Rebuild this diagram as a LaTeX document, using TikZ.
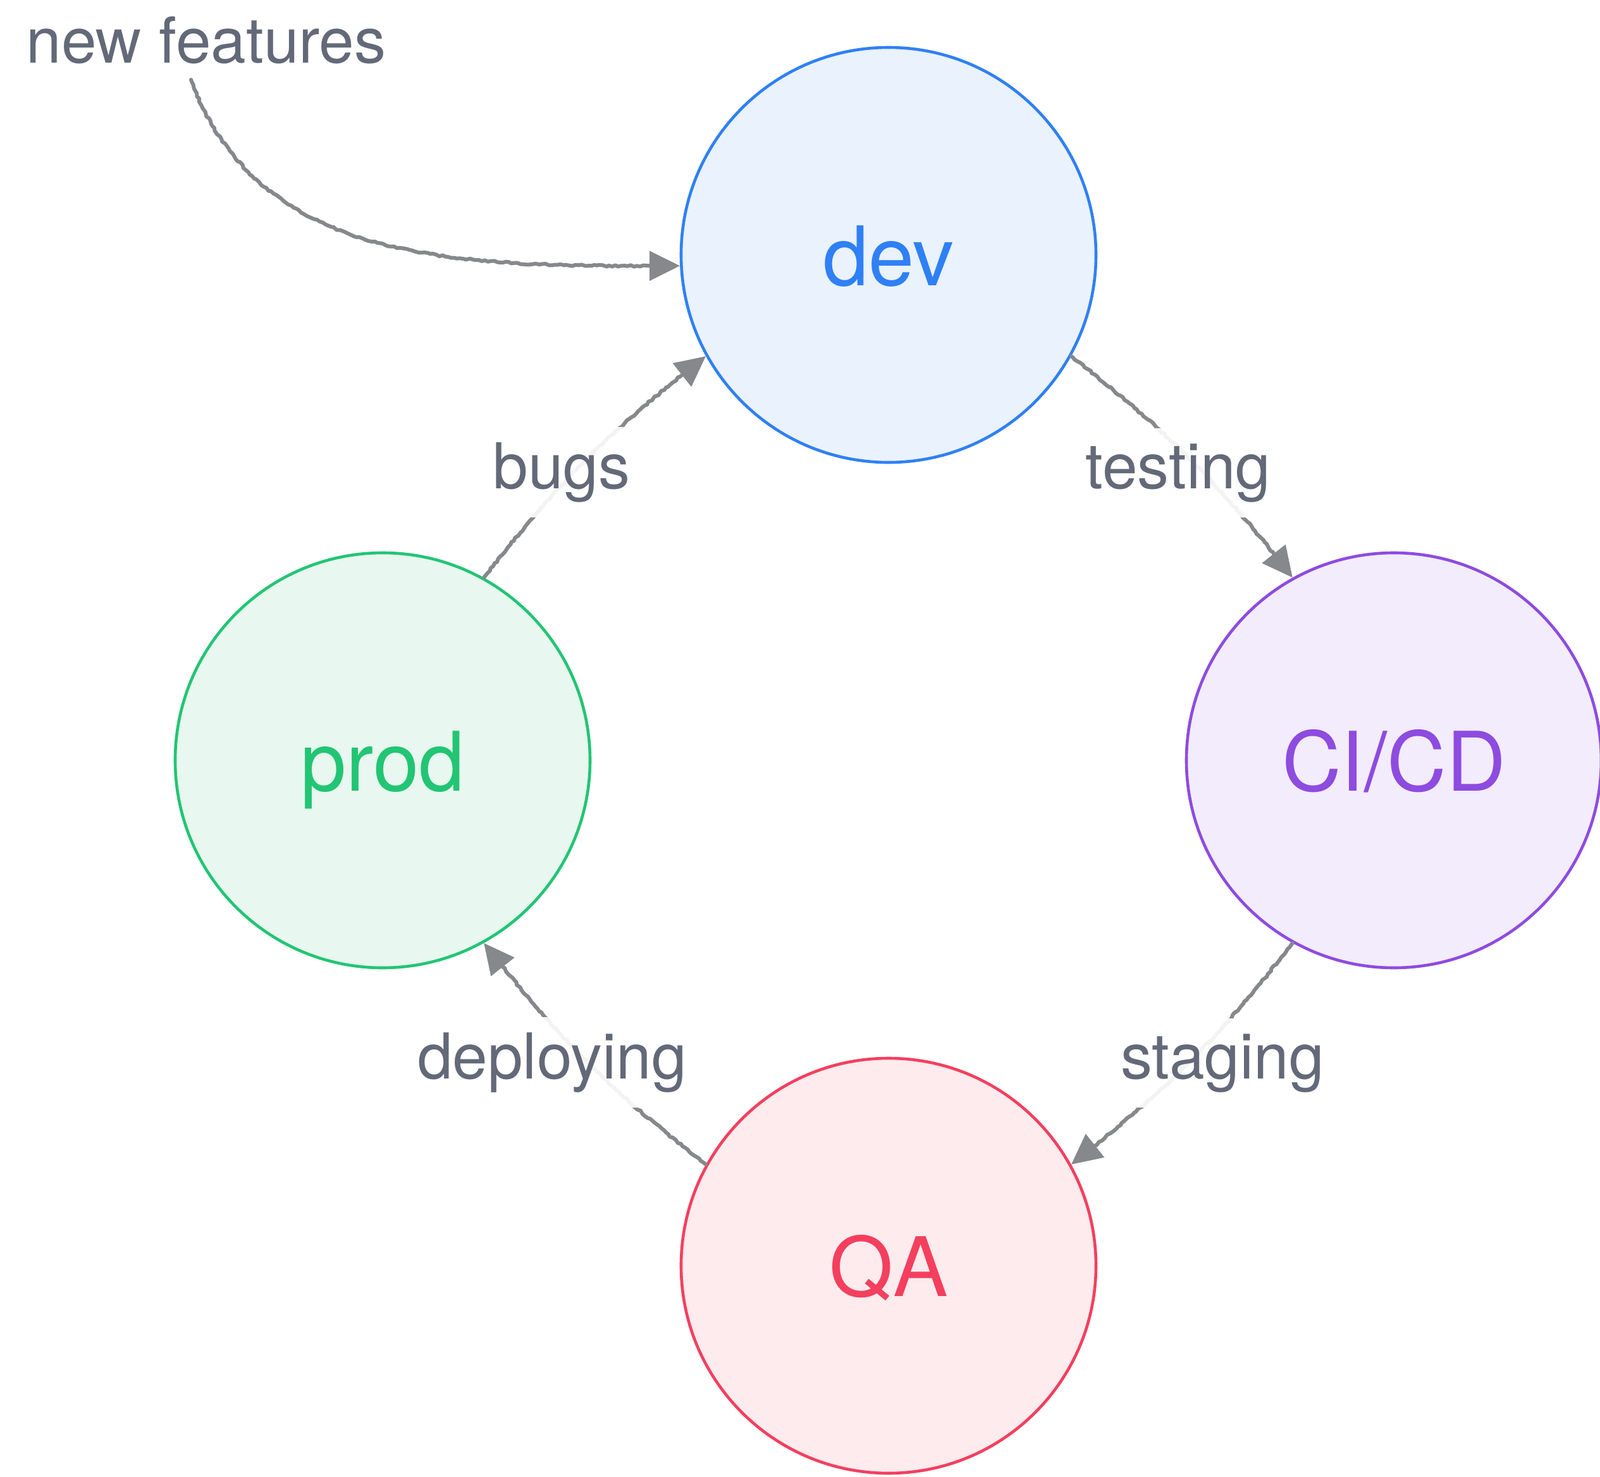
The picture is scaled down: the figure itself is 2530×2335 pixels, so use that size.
\documentclass[tikz,border=0pt]{standalone}
\usepackage{fontspec}
\setmainfont{TeX Gyre Heros}
\usetikzlibrary{arrows.meta,decorations.pathmorphing}
\definecolor{labelgray}{RGB}{99,105,120}
\definecolor{arrowgray}{RGB}{134,136,140}
\definecolor{devline}{RGB}{47,128,245}
\definecolor{devfill}{RGB}{234,242,253}
\definecolor{ciline}{RGB}{142,75,224}
\definecolor{cifill}{RGB}{242,236,252}
\definecolor{qaline}{RGB}{244,63,94}
\definecolor{qafill}{RGB}{253,235,238}
\definecolor{prodline}{RGB}{34,197,116}
\definecolor{prodfill}{RGB}{232,247,239}
\begin{document}
\begin{tikzpicture}[x=0.25pt,y=0.25pt,
  stage/.style={circle, minimum size=164pt, inner sep=0pt, line width=1.15pt,
    text height=24pt, text depth=0pt, font=\fontsize{32.5}{39}\selectfont},
  devstage/.style={stage, draw=devline, fill=devfill, text=devline},
  cistage/.style={stage, draw=ciline, fill=cifill, text=ciline},
  qastage/.style={stage, draw=qaline, fill=qafill, text=qaline},
  prodstage/.style={stage, draw=prodline, fill=prodfill, text=prodline},
  edge/.style={draw=arrowgray, line width=1.5pt, line cap=round, line join=round,
    -{Triangle[length=12pt,width=11.5pt]},
    decorate, decoration={random steps, segment length=1.2pt, amplitude=0.35pt,
    pre length=1pt, post length=12pt}},
  elabel/.style={fill=white, fill opacity=0.9, text opacity=1, text=labelgray,
    inner sep=6pt, font=\fontsize{25}{30}\selectfont, anchor=base},
  freelabel/.style={text=labelgray, inner sep=0pt, font=\fontsize{25}{30}\selectfont, anchor=base}
]
\fill[white] (0,0) rectangle (2530,-2335);
\useasboundingbox (0,0) rectangle (2530,-2335);

\node[devstage]  (dev)  at (1405,-403)  {dev};
\node[cistage]   (cicd) at (2204,-1202) {CI/CD};
\node[qastage]   (qa)   at (1405,-2001) {QA};
\node[prodstage] (prod) at (605,-1202)  {prod};

\node[freelabel] (nf) at (326,-99) {new features};
\coordinate (nfs) at (302,-126);

\draw[edge] (nfs) to[out=-70,in=180] (dev.183);
\draw[edge] (dev.-29) to[bend left=7] (cicd.119);
\draw[edge] (cicd.-119) to[bend left=7] (qa.29);
\draw[edge] (qa.151) to[bend left=7] (prod.-61);
\draw[edge] (prod.61) to[bend left=7] (dev.-151);

\node[elabel] (ltest)   at (1863,-772)  {testing};
\node[elabel] (lstage)  at (1933,-1705) {staging};
\node[elabel] (ldeploy) at (873,-1705)  {deploying};
\node[elabel] (lbugs)   at (888,-772)   {bugs};
\end{tikzpicture}
\end{document}
